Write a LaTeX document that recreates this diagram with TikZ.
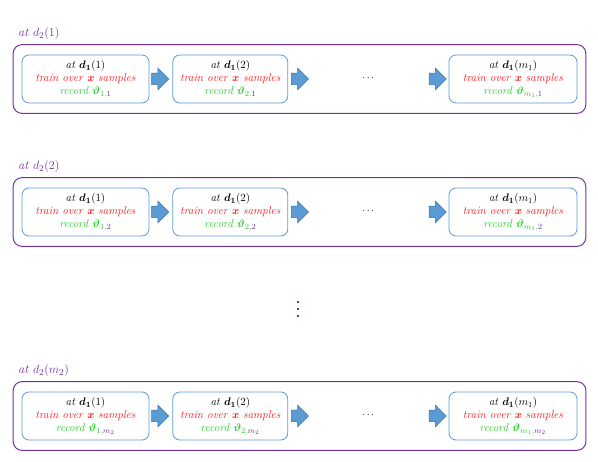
\documentclass[tikz,border=0pt]{standalone}
\usepackage{amsmath}
\usepackage{bm}
\usetikzlibrary{positioning, fit}
\usetikzlibrary{shapes.arrows}

\definecolor{frm}{RGB}{112,48,160}
\definecolor{cellb}{RGB}{91,155,213}
\definecolor{arrb}{RGB}{65,113,156}
\definecolor{rec}{RGB}{40,205,40}
\definecolor{trn}{RGB}{255,20,20}

\newcommand{\celltext}[2]{%
  \textit{at} $\bm{d_1}(#1)$\\
  \textcolor{trn}{\textit{train over} $\bm{x}$ \textit{samples}}\\
  \textcolor{rec}{\textit{record} $\bm{\vartheta}_{#2}$}}

\begin{document}
\begin{tikzpicture}[x=1pt, y=-1pt,
    cell/.style={draw=cellb, line width=0.8pt, rounded corners=7pt, align=center,
      minimum height=48pt, inner sep=0pt, font=\fontsize{11.3}{13}\selectfont},
    frame/.style={draw=frm, line width=1pt, rounded corners=9pt,
      inner xsep=8.5pt, inner ysep=10pt},
    rowlab/.style={text=frm, font=\fontsize{12.5}{14}\selectfont, inner sep=0pt},
    blockarrow/.style={single arrow, fill=cellb, draw=arrb, line width=0.5pt,
      minimum height=17pt, single arrow head extend=5pt,
      text height=0pt, text depth=0pt, text width=0pt, inner xsep=0pt, inner ysep=5.5pt},
    vdot/.style={rectangle, fill=frm, inner sep=1.2pt}]
  \useasboundingbox (0,0) rectangle (598,462);

  % row 1
  \node[cell, minimum width=127pt] (a1) at (85.5,79)
    {\celltext{1}{\textcolor{rec}{1,}\textcolor{frm}{1}}};
  \node[cell, minimum width=115pt, right=23pt of a1] (b1)
    {\celltext{2}{\textcolor{rec}{2,}\textcolor{frm}{1}}};
  \node[cell, minimum width=128pt] (c1) at (513,79)
    {\celltext{m_1}{\textcolor{rec}{m_1,}\textcolor{frm}{1}}};
  \node[blockarrow, right=2pt of a1] (p1) {};
  \node[blockarrow, right=3pt of b1] (q1) {};
  \node[blockarrow, left=2pt of c1] (r1) {};
  \node (e1) at (369,78) {$\cdots$};
  \node[frame, fit=(a1)(c1)] (fr1) {};
  \node[rowlab, anchor=base west] (l1) at (18,37) {\textit{at} $d_2(1)$};

  % row 2
  \node[cell, minimum width=127pt] (a2) at (85.5,212)
    {\celltext{1}{\textcolor{rec}{1,}\textcolor{frm}{2}}};
  \node[cell, minimum width=115pt, right=23pt of a2] (b2)
    {\celltext{2}{\textcolor{rec}{2,}\textcolor{frm}{2}}};
  \node[cell, minimum width=128pt] (c2) at (513,212)
    {\celltext{m_1}{\textcolor{rec}{m_1,}\textcolor{frm}{2}}};
  \node[blockarrow, right=2pt of a2] (p2) {};
  \node[blockarrow, right=3pt of b2] (q2) {};
  \node[blockarrow, left=2pt of c2] (r2) {};
  \node (e2) at (369,211) {$\cdots$};
  \node[frame, fit=(a2)(c2)] (fr2) {};
  \node[rowlab, anchor=base west] (l2) at (18,170) {\textit{at} $d_2(2)$};

  % vertical dots
  \node[vdot] (v1) at (298,302) {};
  \node[vdot] (v2) at (298,309) {};
  \node[vdot] (v3) at (298,316) {};

  % row m_2
  \node[cell, minimum width=127pt] (a3) at (85.5,416)
    {\celltext{1}{\textcolor{rec}{1,}\textcolor{frm}{m_2}}};
  \node[cell, minimum width=115pt, right=23pt of a3] (b3)
    {\celltext{2}{\textcolor{rec}{2,}\textcolor{frm}{m_2}}};
  \node[cell, minimum width=128pt] (c3) at (513,416)
    {\celltext{m_1}{\textcolor{rec}{m_1,}\textcolor{frm}{m_2}}};
  \node[blockarrow, right=2pt of a3] (p3) {};
  \node[blockarrow, right=3pt of b3] (q3) {};
  \node[blockarrow, left=2pt of c3] (r3) {};
  \node (e3) at (369,415) {$\cdots$};
  \node[frame, fit=(a3)(c3)] (fr3) {};
  \node[rowlab, anchor=base west] (l3) at (18,374) {\textit{at} $d_2(m_2)$};
\end{tikzpicture}
\end{document}
